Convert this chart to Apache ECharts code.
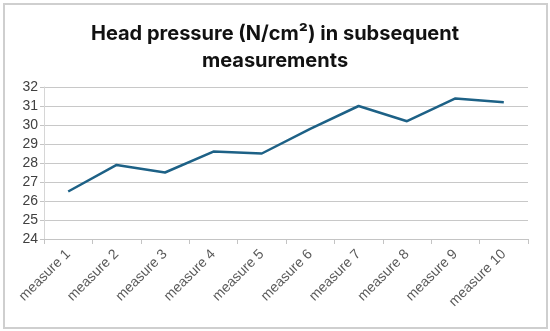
<!DOCTYPE html>
<html>
<head>
<meta charset="utf-8">
<script src="https://cdn.jsdelivr.net/npm/echarts@6/dist/echarts.min.js"></script>
<style>
html,body{margin:0;padding:0;background:#fff;}
#wrap{position:absolute;left:3px;top:3px;width:541px;height:322px;border:2px solid #cfcfcf;box-sizing:content-box;}
#chart{position:absolute;left:0;top:0;width:550px;height:331px;}
</style>
</head>
<body>
<div id="wrap"></div>
<div id="chart"></div>
<script>
const categories = ['measure 1','measure 2','measure 3','measure 4','measure 5','measure 6','measure 7','measure 8','measure 9','measure 10'];
const pressure = [26.5, 27.9, 27.5, 28.6, 28.5, 29.8, 31.0, 30.2, 31.4, 31.2];
const yTicks = {min: 24, max: 32, interval: 1};
const titleText = 'Head pressure (N/cm²) in subsequent\nmeasurements';

const chart = echarts.init(document.getElementById('chart'), null, {renderer: 'canvas'});
chart.setOption({
  animation: false,
  backgroundColor: 'transparent',
  title: {
    text: titleText,
    left: 'center',
    top: 15,
    textStyle: {fontFamily: 'Inter, Roboto, sans-serif', fontSize: 20, fontWeight: 'bold', color: '#111', lineHeight: 27}
  },
  grid: {left: 44, right: 22, top: 87, bottom: 92, containLabel: false},
  xAxis: {
    type: 'category',
    data: categories,
    boundaryGap: true,
    axisLine: {lineStyle: {color: '#c4c4c4', width: 1}},
    axisTick: {show: true, length: 5, lineStyle: {color: '#c4c4c4'}},
    axisLabel: {rotate: 45, color: '#595959', fontFamily: 'Liberation Sans, Arial, sans-serif', fontSize: 14, margin: 13, interval: 0}
  },
  yAxis: {
    type: 'value',
    min: yTicks.min, max: yTicks.max, interval: yTicks.interval,
    axisLine: {show: true, lineStyle: {color: '#d6d6d6', width: 1}},
    axisTick: {show: true, length: 4, lineStyle: {color: '#c4c4c4'}},
    axisLabel: {color: '#404040', fontFamily: 'Liberation Sans, Arial, sans-serif', fontSize: 14, margin: 6},
    splitLine: {show: true, lineStyle: {color: '#c8c8c8', width: 1}}
  },
  series: [{
    type: 'line',
    data: pressure,
    symbol: 'none',
    lineStyle: {color: '#1d6186', width: 2.5},
    itemStyle: {color: '#1d6186'}
  }]
});
</script>
</body>
</html>
